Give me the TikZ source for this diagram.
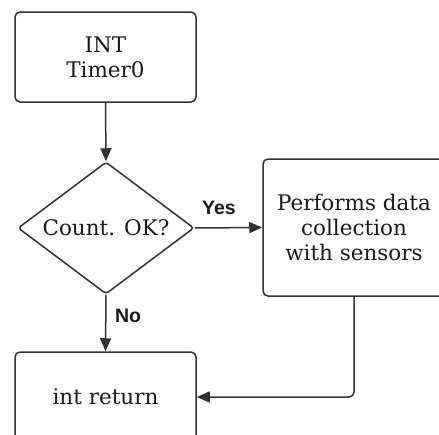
\documentclass[tikz,border=0pt]{standalone}
\usepackage{fontspec}
\setmainfont{DejaVu Serif}
\newfontfamily\labfont{Liberation Sans}
\usetikzlibrary{shapes.geometric,arrows.meta}
\definecolor{linec}{HTML}{333333}
\definecolor{textc}{HTML}{1A1A1A}
\tikzset{
  boxnode/.style={draw=linec, line width=1.5pt, rounded corners=5pt, align=center,
    text=textc, font=\fontsize{21.5}{25}\selectfont, inner sep=0pt},
  dianode/.style={draw=linec, line width=1.5pt, diamond, aspect=1.333, inner sep=0pt,
    minimum width=176pt, minimum height=132pt, rounded corners=3pt,
    text=textc, font=\fontsize{21.5}{25}\selectfont},
  conn/.style={draw=linec, line width=1.5pt, -{Triangle[length=13pt,width=11pt]}},
  lab/.style={text=textc, font=\labfont\bfseries\fontsize{19.5}{22}\selectfont, inner sep=0pt}
}
\begin{document}
\begin{tikzpicture}[x=1pt,y=-1pt]
\clip (0,0) rectangle (439,434);
\useasboundingbox (0,0) rectangle (439,434);
\node[boxnode, minimum width=181pt, minimum height=90pt] (top) at (105.5,57) {INT\\Timer0};
\node[dianode] (dia) at (106,228) {Count. OK?};
\node[boxnode, minimum width=182pt, minimum height=137pt] (right) at (354,227.5) {Performs data\\collection\\with sensors};
\node[boxnode, minimum width=181pt, minimum height=90pt] (ret) at (105.5,397) {int return};
\draw[conn] (top.south) -- (dia.north);
\draw[conn] (dia.east) -- (right.west);
\draw[conn] (dia.south) -- (ret.north);
\draw[conn, rounded corners=5pt] (right.south) |- (ret.east);
\node[lab] (yes) at (219,208) {Yes};
\node[lab] (no) at (128,316) {No};
\end{tikzpicture}
\end{document}
